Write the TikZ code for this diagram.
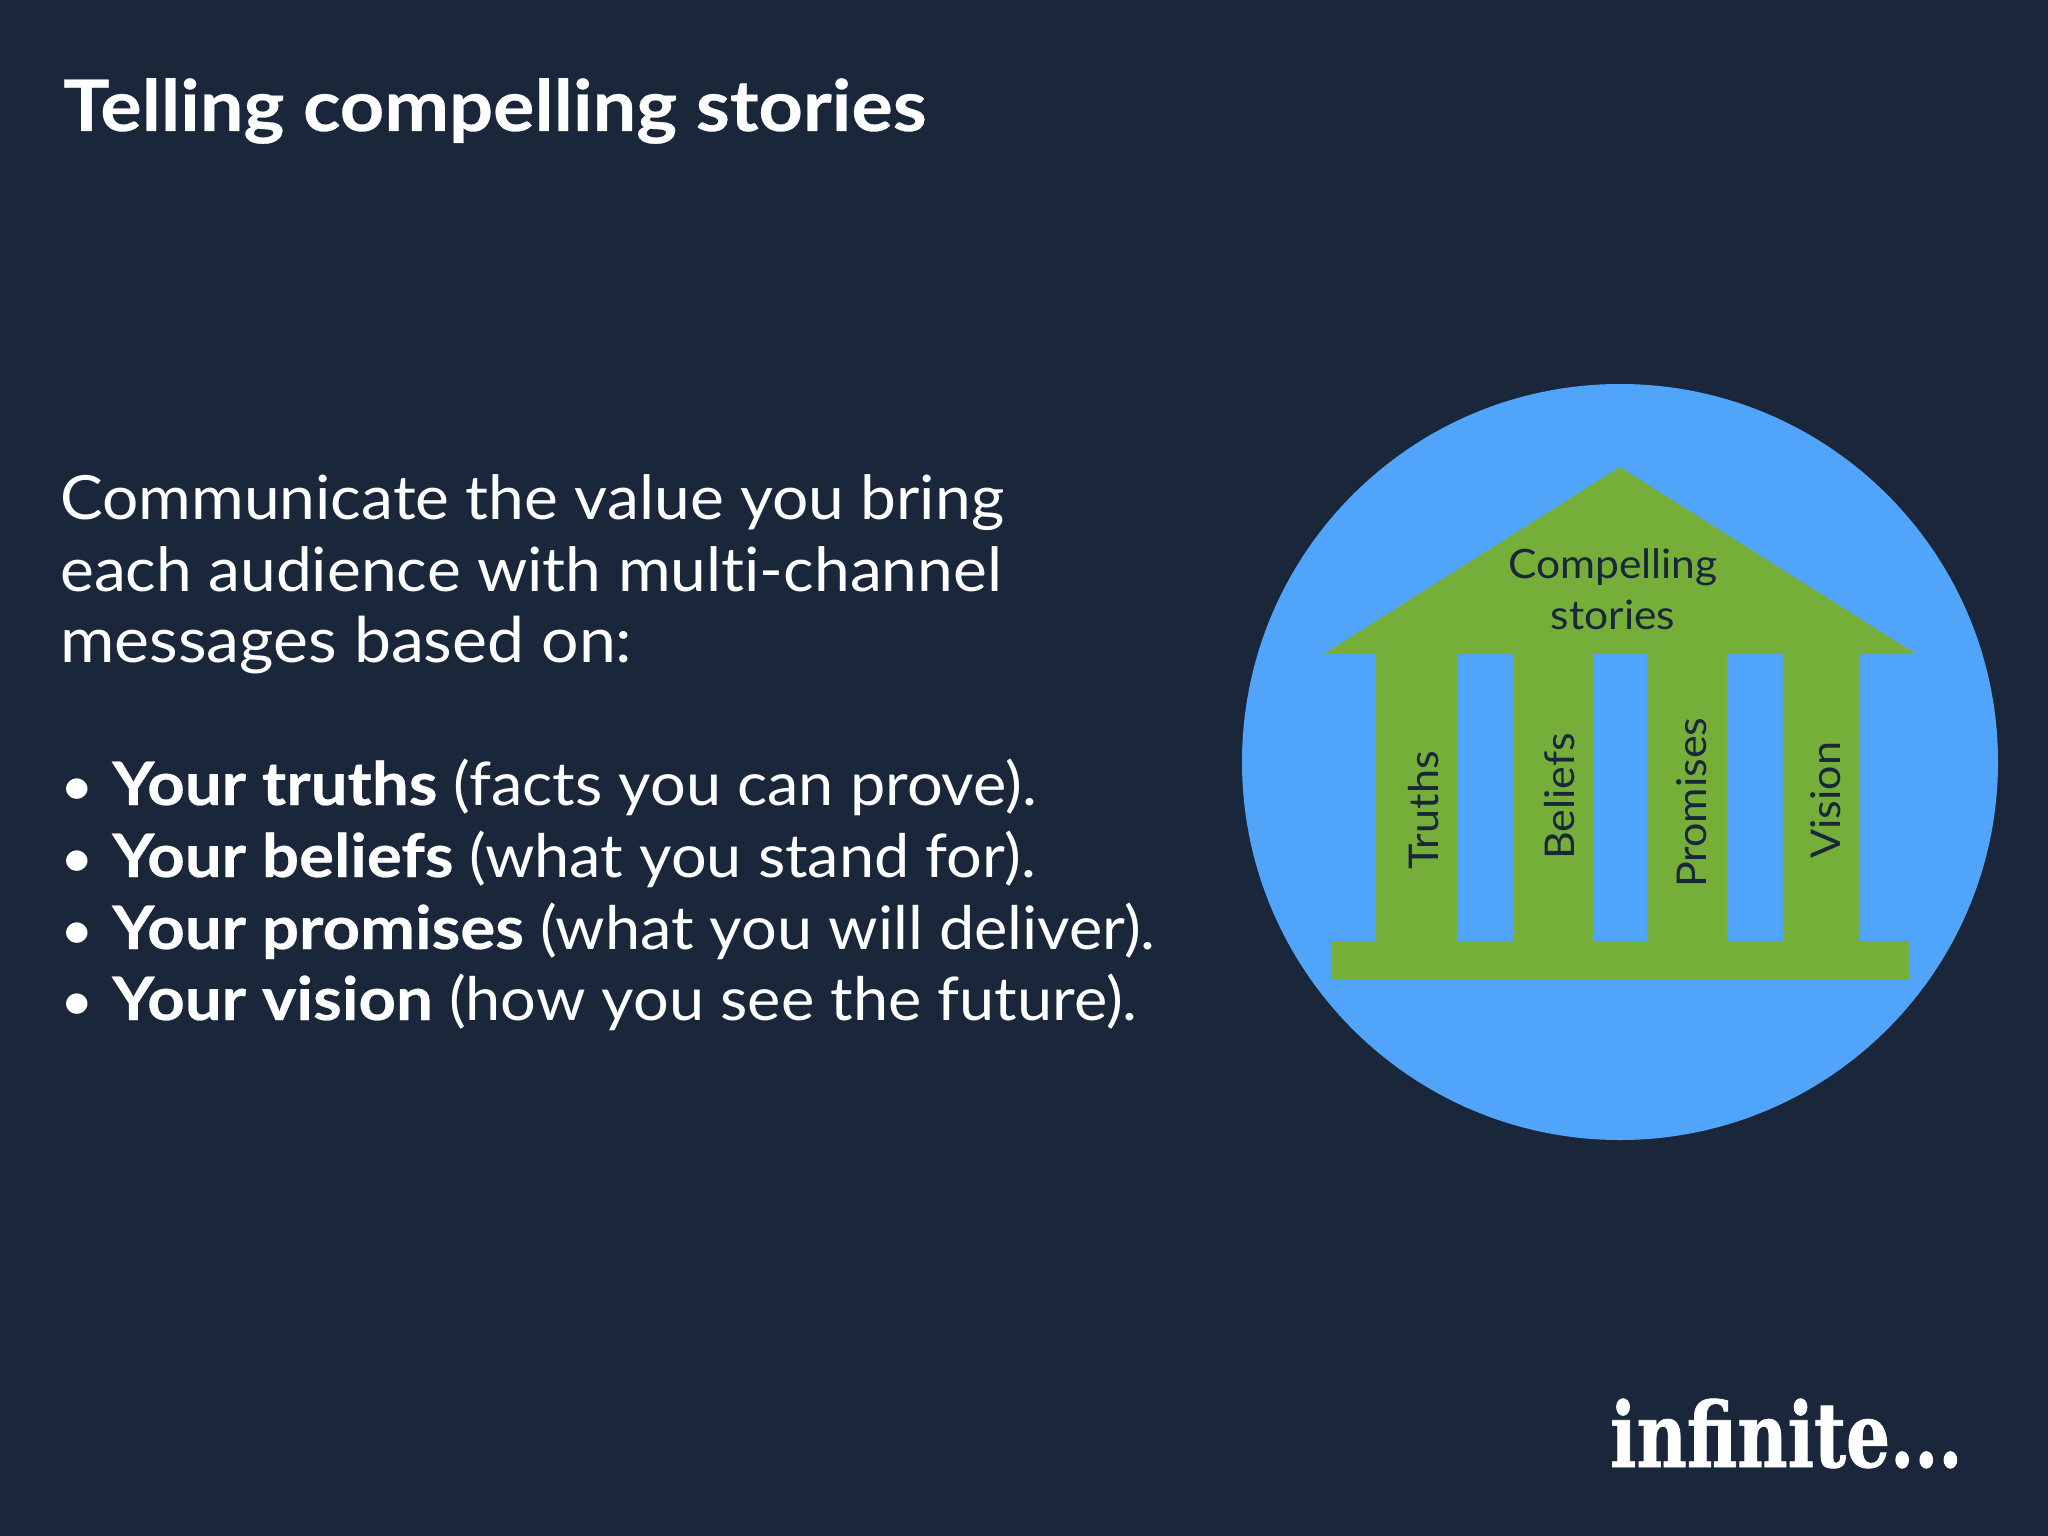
\documentclass[tikz,border=0pt]{standalone}
\usepackage{fontspec}
\setmainfont{Lato}[Ligatures=CommonOff, FakeStretch=1.05,
    BoldFeatures={FakeStretch=1.09, FakeBold=0.4}]
\newfontfamily\logofont{DejaVu Serif}[FakeStretch=0.77,
    BoldFeatures={FakeStretch=0.77, FakeBold=0.8}]
\definecolor{slate}{HTML}{1A263A}
\definecolor{skyblue}{HTML}{50A5FA}
\definecolor{leaf}{HTML}{76AE3A}
\begin{document}
\begin{tikzpicture}[x=1pt, y=-1pt, inner sep=0pt,
    titletext/.style={anchor=base west, text=white, font=\fontsize{71}{72}\selectfont\bfseries},
    bodytext/.style={anchor=base west, text=white, font=\fontsize{61}{72}\selectfont},
    listtext/.style={anchor=base west, text=white, font=\fontsize{60}{72}\selectfont},
    dottext/.style={anchor=base west, text=white, font=\fontsize{55}{72}\selectfont},
    columntext/.style={anchor=base west, rotate=90, text=slate, font=\fontsize{41}{48}\selectfont},
    rooftext/.style={anchor=base, text=slate, font=\fontsize{40.5}{48}\selectfont}]
        \fill[slate] (0,0) rectangle (2048,1536);
        \useasboundingbox (0,0) rectangle (2048,1536);

        \node[titletext] (title) at (63,131) {Telling compelling stories};

        \node[bodytext] (intro1) at (60,519) {Communicate the value you bring};
        \node[bodytext] (intro2) at (60,591) {each audience with multi-channel};
        \node[bodytext, font=\fontsize{63}{72}\selectfont] (intro3) at (60,662) {messages based on:};

        \node[dottext] (dot1) at (60,805) {•};
        \node[dottext] (dot2) at (60,877) {•};
        \node[dottext] (dot3) at (60,949) {•};
        \node[dottext] (dot4) at (60,1020) {•};
        \node[listtext] (truths) at (112,805) {\textbf{Your truths} (facts you can prove).};
        \node[listtext] (beliefs) at (112,877) {\textbf{Your beliefs} (what you stand for).};
        \node[listtext] (promises) at (112,949) {\textbf{Your promises} (what you will deliver).};
        \node[listtext] (vision) at (112,1020) {\textbf{Your vision} (how you see the future).};

        % temple
        \fill[skyblue] (1620,762) circle (378);
        \fill[leaf] (1620,467) -- (1916,654) -- (1324,654) -- cycle;
        \fill[leaf] (1376,654) rectangle (1457,941);
        \fill[leaf] (1513,654) rectangle (1593,941);
        \fill[leaf] (1647,654) rectangle (1727,941);
        \fill[leaf] (1783,654) rectangle (1860,941);
        \fill[leaf] (1331,941) rectangle (1909,979);

        \node[rooftext] (roof1) at (1613,578) {Compelling};
        \node[rooftext] (roof2) at (1613,629) {stories};
        \node[columntext] (col1) at (1438,870) {Truths};
        \node[columntext] (col2) at (1574,860) {Beliefs};
        \node[columntext] (col3) at (1706,888) {Promises};
        \node[columntext] (col4) at (1840,859) {Vision};

        \node[anchor=base west, text=white, font=\fontsize{90}{96}\logofont\bfseries] (logo) at (1610,1467) {infinite...};
      \end{tikzpicture}
\end{document}
